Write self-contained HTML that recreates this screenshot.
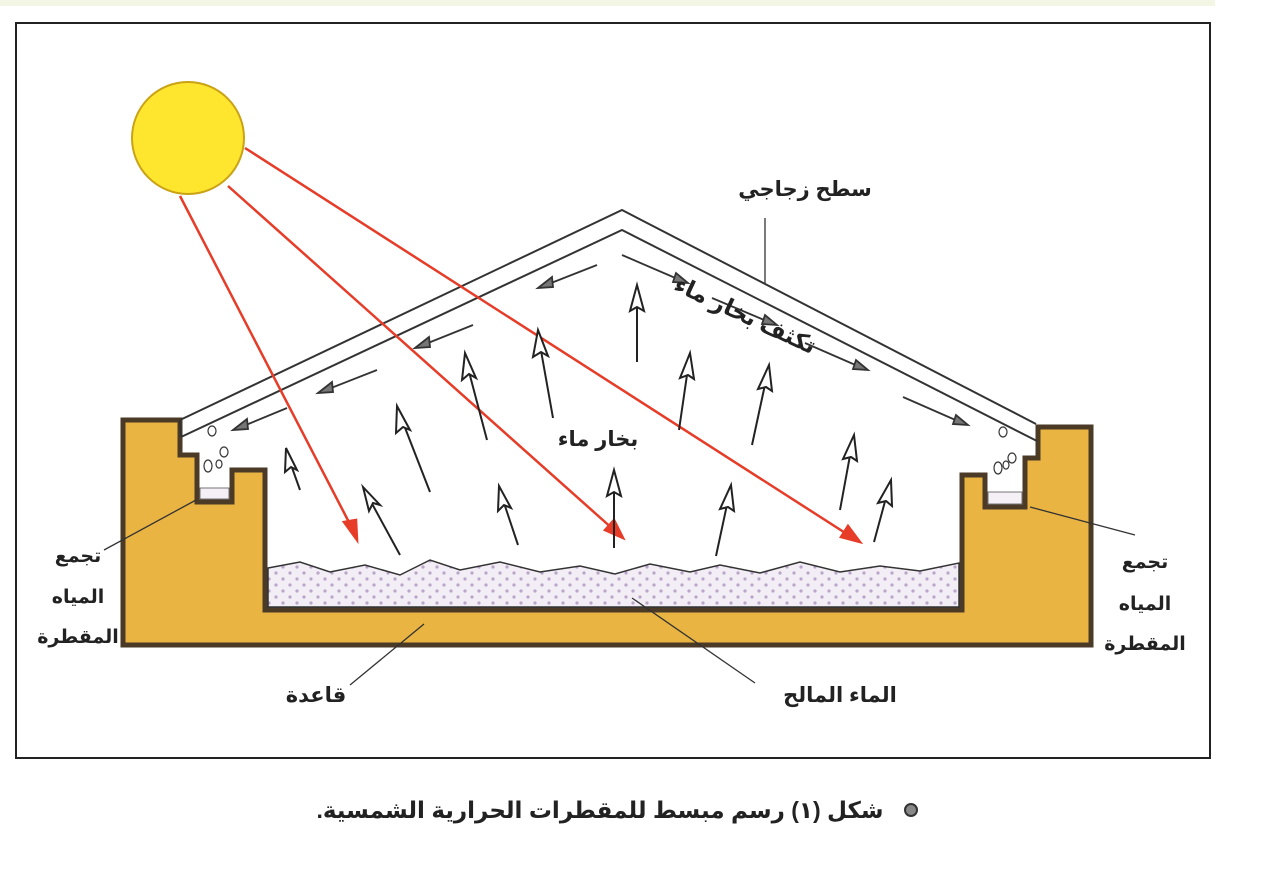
<!DOCTYPE html>
<html><head><meta charset="utf-8"><style>
html,body{margin:0;padding:0;background:#fff;width:1280px;height:872px;overflow:hidden}
svg{display:block}
text{font-family:"Liberation Sans","DejaVu Sans",sans-serif;fill:#222;font-weight:bold}
</style></head><body>
<svg width="1280" height="872" viewBox="0 0 1280 872" xmlns="http://www.w3.org/2000/svg">
<defs>
<pattern id="dots" width="14" height="12" patternUnits="userSpaceOnUse">
<rect width="14" height="12" fill="#f3eef6"/>
<circle cx="3" cy="3" r="1.6" fill="#b9a6c9"/>
<circle cx="10" cy="9" r="1.6" fill="#b9a6c9"/>
</pattern>
</defs>
<rect x="0" y="0" width="1215" height="6" fill="#f3f6e4"/>
<rect x="16" y="23" width="1194" height="735" fill="#fff" stroke="#222" stroke-width="2"/>

<path d="M123,420 L180,420 L180,455 L197,455 L197,502 L232,502 L232,470 L265,470 L265,610 L962,610 L962,475 L985,475 L985,507 L1025,507 L1025,458 L1038,458 L1038,427 L1091,427 L1091,645 L123,645 Z" fill="#eab443" stroke="#4a3a26" stroke-width="5" stroke-linejoin="miter"/>
<path d="M268,568 L300,562 L330,572 L365,565 L400,575 L430,560 L460,570 L500,562 L540,572 L580,566 L615,574 L650,564 L690,572 L720,565 L760,573 L800,562 L840,572 L880,566 L920,571 L959,563 L959,607 L268,607 Z" fill="url(#dots)" stroke="#333" stroke-width="1.5"/>
<rect x="200" y="488" width="29" height="11" fill="#f4f0f6" stroke="#555" stroke-width="0.8"/>
<rect x="988" y="492" width="34" height="12" fill="#f4f0f6" stroke="#555" stroke-width="0.8"/>
<g fill="#fff" stroke="#333" stroke-width="1.2">
<ellipse cx="212" cy="431" rx="4" ry="5"/><ellipse cx="224" cy="452" rx="4" ry="5"/><ellipse cx="208" cy="466" rx="4" ry="6"/><ellipse cx="219" cy="464" rx="3" ry="4"/>
<ellipse cx="1003" cy="432" rx="4" ry="5"/><ellipse cx="1012" cy="458" rx="4" ry="5"/><ellipse cx="998" cy="468" rx="4" ry="6"/><ellipse cx="1006" cy="465" rx="3" ry="4"/>
</g>
<path d="M180,420 L622,210 L1036,424" fill="none" stroke="#333" stroke-width="2"/>
<path d="M181,437 L622,230 L1037,441" fill="none" stroke="#333" stroke-width="2"/>
<line x1="180" y1="420" x2="181" y2="437" stroke="#333" stroke-width="2"/>

<circle cx="188" cy="138" r="56" fill="#ffe62e" stroke="#caa215" stroke-width="2"/>
<g stroke="#e63c28" stroke-width="2.5" fill="#e63c28">
<line x1="180" y1="196" x2="353" y2="530"/><path d="M357,540 L344,522 L356,520 Z"/>
<line x1="228" y1="186" x2="614" y2="530"/><path d="M623,538 L605,530 L614,520 Z"/>
<line x1="245" y1="148" x2="850" y2="536"/><path d="M860,542 L841,537 L848,526 Z"/>
</g>

<g stroke="#222" stroke-width="2" fill="#fff">
<line x1="300" y1="490" x2="290" y2="462"/><path d="M286,448 L297,470 L291,467 L285,472 Z"/>
<line x1="400" y1="555" x2="370" y2="500"/><path d="M363,487 L380,505 L373,503 L369,511 Z"/>
<line x1="430" y1="492" x2="402" y2="420"/><path d="M397,406 L410,430 L403,427 L396,433 Z"/>
<line x1="487" y1="440" x2="468" y2="368"/><path d="M465,353 L476,378 L469,374 L462,380 Z"/>
<line x1="553" y1="418" x2="540" y2="345"/><path d="M538,330 L548,356 L541,352 L533,357 Z"/>
<line x1="518" y1="545" x2="503" y2="500"/><path d="M499,486 L511,508 L504,505 L498,511 Z"/>
<line x1="614" y1="548" x2="614" y2="486"/><path d="M614,470 L621,496 L614,492 L607,496 Z"/>
<line x1="637" y1="362" x2="637" y2="300"/><path d="M637,285 L644,311 L637,307 L630,311 Z"/>
<line x1="679" y1="430" x2="688" y2="368"/><path d="M690,353 L694,379 L688,375 L680,378 Z"/>
<line x1="716" y1="556" x2="728" y2="500"/><path d="M731,485 L734,511 L728,507 L720,509 Z"/>
<line x1="752" y1="445" x2="766" y2="380"/><path d="M769,365 L772,391 L766,387 L758,389 Z"/>
<line x1="840" y1="510" x2="851" y2="450"/><path d="M854,435 L857,461 L851,457 L843,459 Z"/>
<line x1="874" y1="542" x2="887" y2="494"/><path d="M891,480 L892,506 L886,501 L878,503 Z"/>
</g>
<g stroke="#333" stroke-width="1.8" fill="#777">
<line x1="597" y1="265" x2="546" y2="285"/><path d="M538,288 L552,277 L553,287 Z"/>
<line x1="473" y1="325" x2="423" y2="345"/><path d="M415,348 L429,337 L430,347 Z"/>
<line x1="377" y1="370" x2="326" y2="390"/><path d="M318,393 L332,382 L333,392 Z"/>
<line x1="287" y1="408" x2="241" y2="427"/><path d="M233,430 L247,419 L248,429 Z"/>
<line x1="622" y1="255" x2="680" y2="280"/><path d="M688,283 L673,282 L676,273 Z"/>
<line x1="712" y1="298" x2="769" y2="322"/><path d="M777,325 L762,324 L765,315 Z"/>
<line x1="805" y1="343" x2="860" y2="367"/><path d="M868,370 L853,369 L856,360 Z"/>
<line x1="903" y1="397" x2="960" y2="422"/><path d="M968,425 L953,424 L956,415 Z"/>
</g>

<g stroke="#333" stroke-width="1.3" fill="none">
<line x1="765" y1="218" x2="765" y2="283"/>
<line x1="196" y1="500" x2="104" y2="550"/>
<line x1="1030" y1="507" x2="1135" y2="535"/>
<line x1="350" y1="685" x2="424" y2="624"/>
<line x1="755" y1="683" x2="632" y2="598"/>
</g>

<text x="805" y="196" font-size="21" text-anchor="middle" direction="rtl">سطح زجاجي</text>
<text x="742" y="322" font-size="23" text-anchor="middle" direction="rtl" transform="rotate(25 742 322)">تكثف بخار ماء</text>
<text x="598" y="446" font-size="21" text-anchor="middle" direction="rtl">بخار ماء</text>
<g font-size="19" text-anchor="middle">
<text x="78" y="562">تجمع</text><text x="78" y="603">المياه</text><text x="78" y="643">المقطرة</text>
<text x="1145" y="568">تجمع</text><text x="1145" y="610">المياه</text><text x="1145" y="650">المقطرة</text>
</g>
<text x="316" y="702" font-size="21" text-anchor="middle">قاعدة</text>
<text x="840" y="702" font-size="21" text-anchor="middle" direction="rtl">الماء المالح</text>
<text x="600" y="818" font-size="23" text-anchor="middle" direction="rtl">شكل (١) رسم مبسط للمقطرات الحرارية الشمسية.</text>
<circle cx="911" cy="810" r="6" fill="#888" stroke="#333" stroke-width="2"/>
</svg>
</body></html>
